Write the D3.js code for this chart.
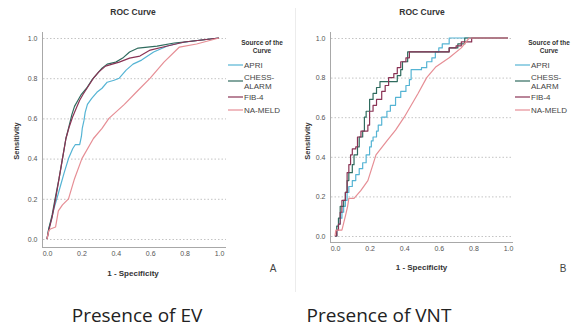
<!DOCTYPE html>
<html>
<head>
<meta charset="utf-8">
<script src="https://cdn.jsdelivr.net/npm/d3@7"></script>
<style>
	body { margin: 0; background: #fff; }
	svg { display: block; }
	.tick text { font-family: "Liberation Sans Narrow", "Liberation Sans", Arial, sans-serif; font-size: 7px; fill: #555; }
</style>
</head>
<body>
<script>
// series names and tick values
var seriesNames = ["APRI", "CHESS-ALARM", "FIB-4", "NA-MELD"];
var tickValues = [0, 0.2, 0.4, 0.6, 0.8, 1.0];

// panel A - presence of EV, [1 - specificity, sensitivity]
var apriEV = [[0,0],[0.01,0.05],[0.027,0.1],[0.04,0.15],[0.057,0.2],[0.08,0.27],[0.1,0.33],[0.125,0.4],[0.15,0.45],[0.165,0.47],[0.19,0.47],[0.2,0.51],[0.205,0.55],[0.215,0.59],[0.222,0.63],[0.235,0.67],[0.26,0.7],[0.29,0.73],[0.32,0.75],[0.35,0.78],[0.39,0.79],[0.42,0.8],[0.46,0.84],[0.5,0.87],[0.55,0.89],[0.62,0.93],[0.7,0.96],[0.77,0.975],[0.85,0.985],[1,1]];
var chessEV = [[0,0],[0.01,0.05],[0.03,0.12],[0.047,0.2],[0.07,0.3],[0.09,0.4],[0.11,0.5],[0.125,0.55],[0.145,0.62],[0.16,0.66],[0.18,0.69],[0.2,0.72],[0.23,0.75],[0.26,0.79],[0.29,0.82],[0.32,0.85],[0.35,0.87],[0.4,0.88],[0.44,0.9],[0.48,0.93],[0.53,0.95],[0.64,0.96],[0.74,0.975],[0.85,0.985],[1,1]];
var fibEV = [[0,0],[0.01,0.04],[0.03,0.11],[0.05,0.2],[0.07,0.3],[0.09,0.4],[0.11,0.5],[0.13,0.56],[0.15,0.61],[0.17,0.65],[0.19,0.69],[0.21,0.72],[0.24,0.76],[0.27,0.8],[0.3,0.83],[0.34,0.86],[0.38,0.87],[0.42,0.88],[0.48,0.9],[0.54,0.91],[0.6,0.94],[0.7,0.96],[0.8,0.98],[0.9,0.99],[1,1]];
var meldEV = [[0,0],[0.01,0.04],[0.02,0.05],[0.05,0.06],[0.066,0.14],[0.09,0.17],[0.125,0.2],[0.16,0.3],[0.203,0.4],[0.27,0.5],[0.32,0.55],[0.36,0.6],[0.45,0.67],[0.53,0.74],[0.6,0.8],[0.68,0.88],[0.77,0.955],[0.87,0.97],[1,1]];

// panel B - presence of VNT (staircase points)
var apriVNT = [[0,0],[0.01,0.03],[0.02,0.06],[0.03,0.09],[0.04,0.12],[0.05,0.15],[0.06,0.18],[0.07,0.22],[0.08,0.25],[0.1,0.28],[0.12,0.31],[0.14,0.34],[0.16,0.37],[0.18,0.41],[0.2,0.45],[0.21,0.48],[0.22,0.5],[0.24,0.53],[0.25,0.56],[0.27,0.6],[0.3,0.63],[0.32,0.66],[0.35,0.7],[0.38,0.73],[0.41,0.76],[0.43,0.79],[0.44,0.84],[0.5,0.85],[0.53,0.88],[0.56,0.9],[0.58,0.93],[0.6,0.95],[0.62,0.97],[0.66,1],[1,1]];
var chessVNT = [[0,0],[0.01,0.05],[0.02,0.09],[0.03,0.15],[0.05,0.18],[0.06,0.22],[0.07,0.28],[0.08,0.32],[0.1,0.36],[0.11,0.41],[0.13,0.45],[0.14,0.5],[0.16,0.53],[0.17,0.6],[0.18,0.63],[0.2,0.69],[0.22,0.72],[0.24,0.75],[0.26,0.78],[0.36,0.81],[0.38,0.84],[0.39,0.88],[0.42,0.93],[0.66,0.95],[0.71,0.97],[0.75,1],[1,1]];
var fibVNT = [[0,0],[0.01,0.03],[0.02,0.06],[0.03,0.12],[0.04,0.18],[0.06,0.22],[0.07,0.32],[0.08,0.36],[0.09,0.41],[0.1,0.44],[0.12,0.45],[0.13,0.5],[0.15,0.53],[0.19,0.56],[0.2,0.63],[0.22,0.66],[0.24,0.69],[0.27,0.73],[0.29,0.76],[0.31,0.8],[0.34,0.82],[0.36,0.85],[0.38,0.88],[0.41,0.9],[0.43,0.93],[0.66,0.95],[0.7,0.96],[0.73,0.98],[0.79,1],[1,1]];
var meldVNT = [[0,0],[0.005,0.03],[0.04,0.03],[0.06,0.1],[0.073,0.15],[0.08,0.19],[0.11,0.19],[0.15,0.23],[0.19,0.28],[0.237,0.41],[0.3,0.48],[0.35,0.535],[0.4,0.6],[0.48,0.72],[0.53,0.8],[0.584,0.855],[0.66,0.9],[0.73,0.95],[0.776,1],[1,1]];

var colors = ["#55b4d4", "#2f6b5e", "#8a3355", "#e68e95"];
var narrow = '"Liberation Sans Narrow", "Liberation Sans", Arial, sans-serif';

var width = 574, height = 335;

var svg = d3.select("body").append("svg")
	.attr("width", width)
	.attr("height", height);

// faint divider between the two panels
svg.append("line")
	.attr("x1", 295.5).attr("x2", 295.5)
	.attr("y1", 8).attr("y2", 292)
	.attr("stroke", "#ececec");

var panels = [
	{ data: [apriEV, chessEV, fibEV, meldEV], steps: [false, false, false, false],
	  xr: [47, 219], yr: [239, 38], axisX: 42, axisY: 247, gridEnd: 226,
	  titleX: 133, xlabY: 273, ylabX: 16, legendX: 228,
	  letter: "A", letterX: 273, caption: "Presence of EV", captionX: 137 },
	{ data: [apriVNT, chessVNT, fibVNT, meldVNT], steps: [true, true, true, false],
	  xr: [335, 508], yr: [236, 38], axisX: 330, axisY: 242, gridEnd: 513,
	  titleX: 422, xlabY: 267, ylabX: 307, legendX: 515,
	  letter: "B", letterX: 563, caption: "Presence of VNT", captionX: 379 }
];

panels.forEach(function (p) {
	var x = d3.scaleLinear().domain([0, 1]).range(p.xr);
	var y = d3.scaleLinear().domain([0, 1]).range(p.yr);
	var g = svg.append("g");

	// title
	g.append("text")
		.attr("x", p.titleX).attr("y", 15)
		.attr("text-anchor", "middle")
		.style("font-family", narrow).style("font-size", "8.5px").style("font-weight", "bold")
		.attr("fill", "#333")
		.text("ROC Curve");

	// dotted gridlines
	g.selectAll("line.grid")
		.data(tickValues)
		.enter().append("line")
		.attr("class", "grid")
		.attr("x1", p.axisX + 1).attr("x2", p.gridEnd)
		.attr("y1", function (d) { return y(d) + 0.5; })
		.attr("y2", function (d) { return y(d) + 0.5; })
		.attr("stroke", "#c4c4c4")
		.attr("stroke-dasharray", "1.5,2");

	// axes
	g.append("g")
		.attr("transform", "translate(0," + p.axisY + ")")
		.call(d3.axisBottom(x).tickValues(tickValues).tickSize(0).tickPadding(4.5).tickFormat(d3.format(".1f")))
		.call(function (a) { a.select(".domain").remove(); });

	g.append("g")
		.attr("transform", "translate(" + p.axisX + ",0)")
		.call(d3.axisLeft(y).tickValues(tickValues).tickSize(0).tickPadding(4.5).tickFormat(d3.format(".1f")))
		.call(function (a) { a.select(".domain").remove(); });

	g.append("line")
		.attr("x1", p.axisX + 0.5).attr("x2", p.axisX + 0.5)
		.attr("y1", 32).attr("y2", p.axisY + 0.5)
		.attr("stroke", "#a8a8a8");
	g.append("line")
		.attr("x1", p.axisX).attr("x2", p.gridEnd)
		.attr("y1", p.axisY + 0.5).attr("y2", p.axisY + 0.5)
		.attr("stroke", "#a8a8a8");

	// axis titles
	g.append("text")
		.attr("x", (p.xr[0] + p.xr[1]) / 2).attr("y", p.xlabY + 3)
		.attr("text-anchor", "middle")
		.style("font-family", narrow).style("font-size", "8px").style("font-weight", "bold")
		.attr("fill", "#333")
		.text("1 - Specificity");

	g.append("text")
		.attr("transform", "translate(" + p.ylabX + ",141) rotate(-90)")
		.attr("text-anchor", "middle")
		.attr("dy", "0.35em")
		.style("font-family", narrow).style("font-size", "7.5px").style("font-weight", "bold")
		.attr("fill", "#333")
		.text("Sensitivity");

	// curves
	p.data.forEach(function (series, i) {
		var line = d3.line()
			.x(function (d) { return x(d[0]); })
			.y(function (d) { return y(d[1]); })
			.curve(p.steps[i] ? d3.curveStepAfter : d3.curveLinear);

		g.append("path")
			.datum(series)
			.attr("fill", "none")
			.attr("stroke", colors[i])
			.attr("stroke-width", 1.2)
			.attr("stroke-linejoin", "round")
			.attr("d", line);
	});

	// legend
	var lg = g.append("g").style("font-family", narrow);
	lg.append("text")
		.attr("x", p.legendX + 34).attr("y", 45)
		.attr("text-anchor", "middle")
		.style("font-size", "6.5px").style("font-weight", "bold").attr("fill", "#333")
		.text("Source of the");
	lg.append("text")
		.attr("x", p.legendX + 34).attr("y", 53)
		.attr("text-anchor", "middle")
		.style("font-size", "6.5px").style("font-weight", "bold").attr("fill", "#333")
		.text("Curve");

	var rowY = [65, 81, 97, 110];
	seriesNames.forEach(function (name, i) {
		lg.append("line")
			.attr("x1", p.legendX).attr("x2", p.legendX + 15)
			.attr("y1", rowY[i]).attr("y2", rowY[i])
			.attr("stroke", colors[i]).attr("stroke-width", 1.2);
		var parts = name === "CHESS-ALARM" ? ["CHESS-", "ALARM"] : [name];
		parts.forEach(function (t, k) {
			lg.append("text")
				.attr("x", p.legendX + 16)
				.attr("y", rowY[i] + 3 + (parts.length > 1 ? (k === 0 ? -4.5 : 4.5) : 0))
				.style("font-size", "8px").attr("fill", "#444")
				.text(t);
		});
	});

	// panel letter and caption
	g.append("text")
		.attr("x", p.letterX).attr("y", 272)
		.attr("text-anchor", "middle")
		.style("font-family", "Liberation Sans, Arial, sans-serif").style("font-size", "10px")
		.attr("fill", "#444")
		.text(p.letter);

	g.append("text")
		.attr("x", p.captionX).attr("y", 322)
		.attr("text-anchor", "middle")
		.style("font-family", "'Open Sans', sans-serif").style("font-size", "19px")
		.attr("fill", "#222")
		.text(p.caption);
});
</script>
</body>
</html>
